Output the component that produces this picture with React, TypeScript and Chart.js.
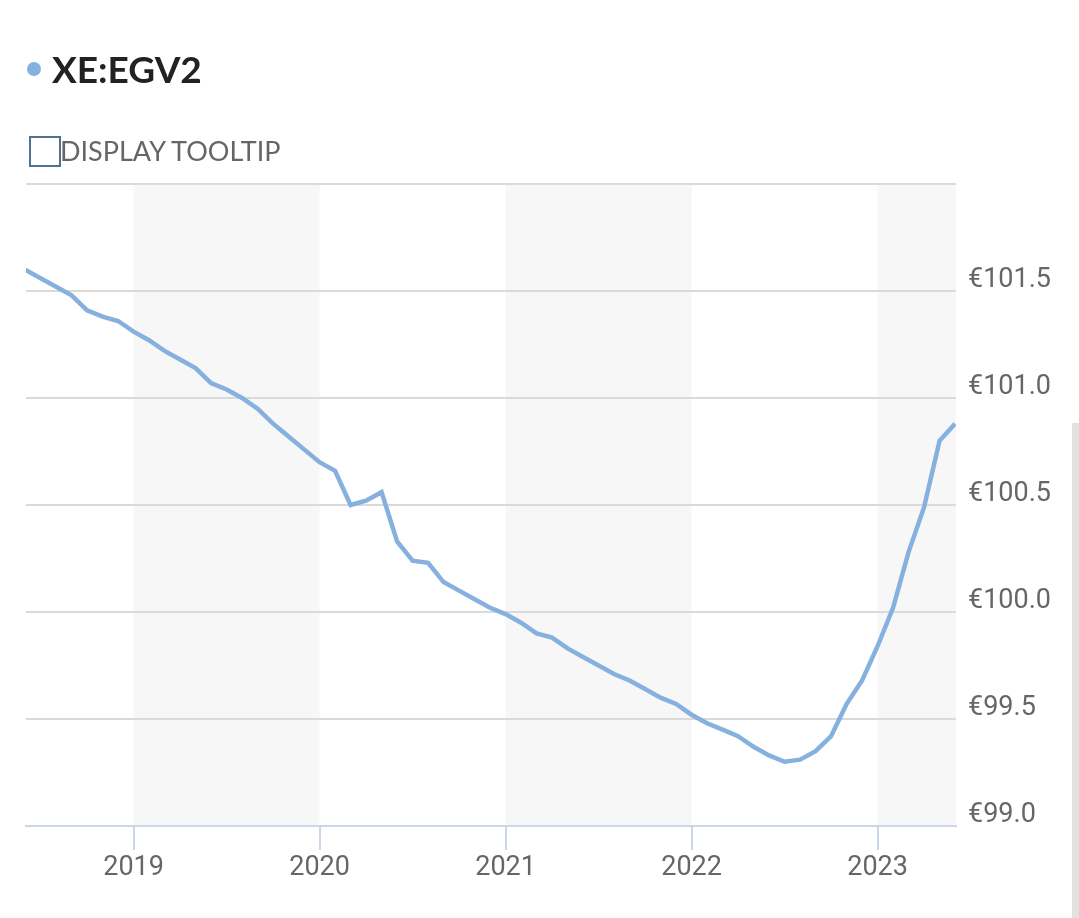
import React, { useEffect, useRef } from 'react';
import { Chart, registerables } from 'chart.js';

Chart.register(...registerables);

const title = 'XE:EGV2';
const toggleLabel = 'DISPLAY TOOLTIP';

const months = [
  '2018-06', '2018-07', '2018-08', '2018-09', '2018-10', '2018-11', '2018-12',
  '2019-01', '2019-02', '2019-03', '2019-04', '2019-05', '2019-06', '2019-07', '2019-08', '2019-09', '2019-10', '2019-11', '2019-12',
  '2020-01', '2020-02', '2020-03', '2020-04', '2020-05', '2020-06', '2020-07', '2020-08', '2020-09', '2020-10', '2020-11', '2020-12',
  '2021-01', '2021-02', '2021-03', '2021-04', '2021-05', '2021-06', '2021-07', '2021-08', '2021-09', '2021-10', '2021-11', '2021-12',
  '2022-01', '2022-02', '2022-03', '2022-04', '2022-05', '2022-06', '2022-07', '2022-08', '2022-09', '2022-10', '2022-11', '2022-12',
  '2023-01', '2023-02', '2023-03', '2023-04', '2023-05', '2023-06',
];

const prices = [
  101.60, 101.56, 101.52, 101.48, 101.41, 101.38, 101.36,
  101.31, 101.27, 101.22, 101.18, 101.14, 101.07, 101.04, 101.00, 100.95, 100.88, 100.82, 100.76,
  100.70, 100.66, 100.50, 100.52, 100.56, 100.33, 100.24, 100.23, 100.14, 100.10, 100.06, 100.02,
  99.99, 99.95, 99.90, 99.88, 99.83, 99.79, 99.75, 99.71, 99.68, 99.64, 99.60, 99.57,
  99.52, 99.48, 99.45, 99.42, 99.37, 99.33, 99.30, 99.31, 99.35, 99.42, 99.57, 99.68,
  99.84, 100.02, 100.28, 100.49, 100.80, 100.88,
];

const yearTicks = [2019, 2020, 2021, 2022, 2023];
const priceTicks = [99, 99.5, 100, 100.5, 101, 101.5, 102];
const hiddenPriceLabels = [102];
const shadedYears = [
  [2019, 2020],
  [2021, 2022],
  [2023, 2024],
];

function monthToYear(m: string): number {
  const [y, mo] = m.split('-').map(Number);
  return y + (mo - 1) / 12;
}

const bandsPlugin = {
  id: 'yearBands',
  beforeDraw(chart: any) {
    const { ctx, chartArea: a, scales } = chart;
    const x = scales.x;
    ctx.save();
    ctx.fillStyle = '#f7f7f7';
    for (const [s, e] of shadedYears) {
      const x1 = Math.max(a.left, x.getPixelForValue(s));
      const x2 = Math.min(a.right, x.getPixelForValue(e));
      if (x2 > x1) ctx.fillRect(x1, a.top, x2 - x1, a.bottom - a.top);
    }
    ctx.restore();
  },
};

export default function App() {
  const canvasRef = useRef<HTMLCanvasElement | null>(null);

  useEffect(() => {
    if (!canvasRef.current) return;
    const points = months.map((m, i) => ({ x: monthToYear(m), y: prices[i] }));
    const chart = new Chart(canvasRef.current, {
      type: 'line',
      data: {
        datasets: [
          {
            label: title,
            data: points,
            borderColor: '#86b1df',
            backgroundColor: '#86b1df',
            borderWidth: 4.5,
            pointRadius: 0,
            tension: 0,
            fill: false,
          },
        ],
      },
      options: {
        animation: false,
        responsive: true,
        maintainAspectRatio: false,
        layout: { padding: { left: 26, top: 184, right: 0, bottom: 0 } },
        plugins: {
          legend: { display: false },
          tooltip: { enabled: false },
        },
        scales: {
          x: {
            type: 'linear',
            min: monthToYear(months[0]) + 0.005,
            max: monthToYear(months[months.length - 1]) + 0.005,
            afterBuildTicks: (s: any) => {
              s.ticks = yearTicks.map((v) => ({ value: v }));
            },
            afterFit: (s: any) => {
              s.height = 92;
            },
            grid: {
              drawOnChartArea: false,
              drawTicks: true,
              tickLength: 24,
              color: '#ccd6eb',
              lineWidth: 2,
            },
            border: { display: true, color: '#ccd6eb', width: 2 },
            ticks: {
              color: '#666666',
              font: { family: 'Roboto', size: 27 },
              padding: 2,
              maxRotation: 0,
              autoSkip: false,
              callback: (v: any) => String(v),
            },
          },
          y: {
            position: 'right',
            min: 99,
            max: 102,
            afterBuildTicks: (s: any) => {
              s.ticks = priceTicks.map((v) => ({ value: v }));
            },
            afterFit: (s: any) => {
              s.width = 123;
            },
            grid: {
              drawTicks: false,
              lineWidth: 2,
              color: (c: any) => (c.tick && c.tick.value === 99 ? 'rgba(0,0,0,0)' : '#dadada'),
            },
            border: { display: false },
            ticks: {
              color: '#666666',
              font: { family: 'Roboto', size: 27 },
              padding: 12,
              labelOffset: -11,
              callback: (v: any) =>
                hiddenPriceLabels.includes(Number(v)) ? '' : '€' + Number(v).toFixed(1),
            },
          },
        },
      },
      plugins: [bandsPlugin],
    });
    return () => chart.destroy();
  }, []);

  return (
    <div
      style={{
        position: 'absolute',
        left: 0,
        top: 0,
        width: 1079,
        height: 918,
        overflow: 'hidden',
        background: '#ffffff',
      }}
    >
      <div style={{ position: 'absolute', left: 0, top: 0, width: 1079, height: 918 }}>
        <canvas ref={canvasRef} />
      </div>
      <div
        style={{
          position: 'absolute',
          left: 27,
          top: 62,
          width: 14,
          height: 14,
          borderRadius: '50%',
          background: '#86b1df',
        }}
      />
      <div
        style={{
          position: 'absolute',
          left: 52,
          top: 50,
          fontFamily: 'Lato',
          fontWeight: 700,
          fontSize: 37,
          lineHeight: '37px',
          color: '#222222',
          whiteSpace: 'nowrap',
        }}
      >
        {title}
      </div>
      <div
        style={{
          position: 'absolute',
          left: 29,
          top: 136,
          width: 32,
          height: 31,
          boxSizing: 'border-box',
          border: '2.5px solid #50728f',
          background: '#ffffff',
        }}
      />
      <div
        style={{
          position: 'absolute',
          left: 60,
          top: 137,
          fontFamily: 'Lato',
          fontSize: 27,
          lineHeight: '27px',
          color: '#666666',
          whiteSpace: 'nowrap',
        }}
      >
        {toggleLabel}
      </div>
      <div
        style={{
          position: 'absolute',
          left: 1072,
          top: 423,
          width: 7,
          height: 495,
          background: '#e2e2e2',
        }}
      />
    </div>
  );
}
